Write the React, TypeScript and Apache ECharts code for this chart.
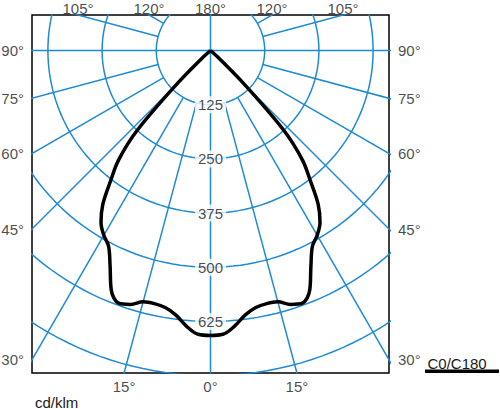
import React, { useEffect, useRef } from "react";
import * as echarts from "echarts";

// Luminous intensity distribution (cd/klm), C0/C180 plane, gamma in degrees
const gammaDeg = [0, 2.5, 5, 7.5, 10, 12.5, 15, 17.5, 20, 22.5, 25, 27.5, 30, 32.5, 35, 37.5, 40, 42.5, 45, 47.5, 50, 60, 90, 120, 150, 180];
const intensityC0 = [657, 655, 638, 615, 602, 598, 600, 614, 620, 598, 548, 509, 492, 470, 433, 378, 330, 252, 112, 28, 0, 0, 0, 0, 0, 0];
const intensityC180 = [657, 655, 638, 615, 602, 598, 600, 614, 620, 598, 548, 509, 492, 470, 433, 378, 330, 252, 112, 28, 0, 0, 0, 0, 0, 0];

const ringValues = [125, 250, 375, 500, 625, 750];
const ringLabelValues = [125, 250, 375, 500, 625];
const spokeAngles = [0, 15, 30, 45, 60, 75, 90, 105, 120, 135, 150, 165, 180, 195, 210, 225, 240, 255, 270, 285, 300, 315, 330, 345];
const edgeLabelAngles = [0, 15, 30, 45, 60, 75, 90, 105, 120, 180];
const unitLabel = "cd/klm";
const planeLabel = "C0/C180";

// layout
const GRID_LEFT = 32;
const GRID_TOP = 15;
const GRID_W = 357;
const GRID_H = 358;
const CENTER_PX_X = 178.5; // from grid left
const CENTER_PX_Y = 35.5; // from grid top
const PX_PER_UNIT = 54.2 / 125;

const xMin = -CENTER_PX_X / PX_PER_UNIT;
const xMax = (GRID_W - CENTER_PX_X) / PX_PER_UNIT;
const yMax = CENTER_PX_Y / PX_PER_UNIT;
const yMin = -(GRID_H - CENTER_PX_Y) / PX_PER_UNIT;

const BLUE = "#1e8ad6";
const FONT = "Liberation Sans, Arial, sans-serif";
const TEXT = "#1a1a1a";

const rad = (d: number) => (d * Math.PI) / 180;
// gamma measured from downward vertical, positive to the right
const toXY = (g: number, r: number): [number, number] => [r * Math.sin(rad(g)), -r * Math.cos(rad(g))];

function buildOption() {
  const series: any[] = [];

  // rings
  ringValues.forEach((r) => {
    const pts: [number, number][] = [];
    for (let a = 0; a <= 360; a += 2) pts.push(toXY(a, r));
    series.push({
      type: "line",
      data: pts,
      showSymbol: false,
      symbol: "none",
      clip: true,
      silent: true,
      lineStyle: { color: BLUE, width: 1.5 },
      z: 1,
    });
  });

  // spokes
  spokeAngles.forEach((a) => {
    const full = a % 90 === 0;
    const pts = [toXY(a, full ? 0 : ringValues[0]), toXY(a, 3000)];
    series.push({
      type: "line",
      data: pts,
      showSymbol: false,
      symbol: "none",
      clip: true,
      silent: true,
      lineStyle: { color: BLUE, width: 1.5 },
      z: 1,
    });
  });

  // ring value labels along the 0° axis
  series.push({
    type: "scatter",
    symbolSize: 0,
    silent: true,
    clip: false,
    z: 3,
    data: ringLabelValues.map((v) => ({ value: [0, -v], name: String(v) })),
    label: {
      show: true,
      position: "inside",
      formatter: (p: any) => p.name,
      color: TEXT,
      fontSize: 15,
      fontFamily: FONT,
      backgroundColor: "#fff",
      padding: [1, 3],
    },
  });

  // edge angle labels
  const edgeData: any[] = [];
  edgeLabelAngles.forEach((a) => {
    const sides = a === 0 || a === 180 ? [1] : [-1, 1];
    sides.forEach((s) => {
      const dx = s * Math.sin(rad(a));
      const dy = -Math.cos(rad(a));
      const tx = Math.abs(dx) < 1e-9 ? Infinity : dx > 0 ? xMax / dx : xMin / dx;
      const ty = Math.abs(dy) < 1e-9 ? Infinity : dy > 0 ? yMax / dy : yMin / dy;
      const t = Math.min(tx, ty);
      let pos: string;
      if (tx < ty) pos = dx < 0 ? "left" : "right";
      else pos = dy > 0 ? "top" : "bottom";
      const dist = pos === "left" ? 8 : pos === "right" ? 9 : pos === "top" ? 1 : 6;
      const label: any = { position: pos, distance: dist };
      if (pos === "top") label.lineHeight = 12;
      edgeData.push({
        value: [dx * t, dy * t],
        name: a + "°",
        label,
      });
    });
  });
  series.push({
    type: "scatter",
    symbolSize: 0,
    silent: true,
    clip: false,
    z: 3,
    data: edgeData,
    label: {
      show: true,
      formatter: (p: any) => p.name,
      color: TEXT,
      fontSize: 15,
      fontFamily: FONT,
    },
  });

  // intensity curve
  const raw: [number, number][] = [];
  for (let i = gammaDeg.length - 1; i >= 0; i--) raw.push(toXY(-gammaDeg[i], intensityC180[i]));
  for (let i = 1; i < gammaDeg.length; i++) raw.push(toXY(gammaDeg[i], intensityC0[i]));
  const curve: [number, number][] = [];
  raw.forEach((p) => {
    const last = curve[curve.length - 1];
    if (!last || Math.abs(last[0] - p[0]) > 1e-6 || Math.abs(last[1] - p[1]) > 1e-6) curve.push(p);
  });
  series.push({
    type: "line",
    name: planeLabel,
    data: curve,
    showSymbol: false,
    symbol: "none",
    smooth: 0.35,
    clip: true,
    silent: true,
    lineStyle: { color: "#000", width: 3.5, join: "round" },
    z: 4,
  });

  return {
    animation: false,
    grid: {
      left: GRID_LEFT,
      top: GRID_TOP,
      width: GRID_W,
      height: GRID_H,
      show: true,
      borderColor: "#000",
      borderWidth: 1.5,
      backgroundColor: "#fff",
      z: 0,
    },
    xAxis: {
      type: "value",
      min: xMin,
      max: xMax,
      show: false,
    },
    yAxis: {
      type: "value",
      min: yMin,
      max: yMax,
      show: false,
    },
    graphic: [
      {
        type: "text",
        x: 35,
        y: 402,
        style: { text: unitLabel, fill: TEXT, font: `15px ${FONT}`, verticalAlign: "middle" },
      },
      {
        type: "text",
        x: 427.5,
        y: 363,
        style: { text: planeLabel, fill: TEXT, font: `15px ${FONT}`, verticalAlign: "middle" },
      },
      {
        type: "rect",
        shape: { x: 425, y: 369.5, width: 74, height: 3.5 },
        style: { fill: "#000" },
      },
    ],
    series,
  };
}

export default function App() {
  const ref = useRef<HTMLDivElement>(null);
  useEffect(() => {
    if (!ref.current) return;
    const chart = echarts.init(ref.current, undefined, { renderer: "svg" });
    chart.setOption(buildOption() as any);
    return () => chart.dispose();
  }, []);
  return (
    <div
      ref={ref}
      style={{ position: "absolute", left: 0, top: 0, width: 500, height: 409, background: "#fff" }}
    />
  );
}
